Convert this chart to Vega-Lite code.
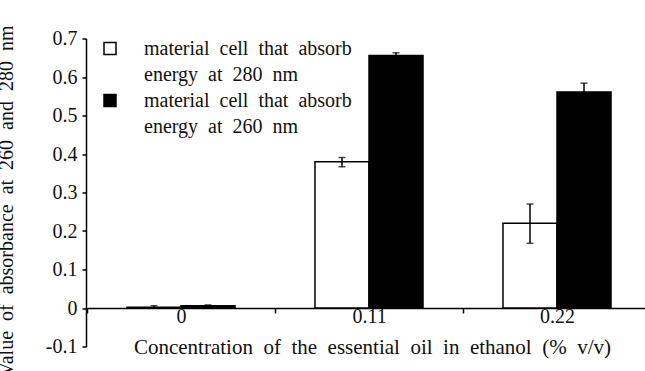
{
  "$schema": "https://vega.github.io/schema/vega-lite/v6.json",
  "width": 559,
  "height": 308,
  "autosize": {"type": "none"},
  "padding": {"left": 86, "top": 38.5, "right": 0, "bottom": 24.5},
  "background": "white",
  "config": {
    "view": {"stroke": null},
    "font": "Liberation Serif",
    "axis": {"grid": false, "labelFont": "Liberation Serif", "titleFont": "Liberation Serif"},
    "axisY": {"labelOverlap": false},
    "legend": {"labelFont": "Liberation Serif", "titleFont": "Liberation Serif"}
  },
  "data": {
    "values": [
      {"conc": "0", "series": "280", "value": 0.002, "lo": 0.0, "hi": 0.006},
      {"conc": "0", "series": "260", "value": 0.006, "lo": 0.004, "hi": 0.008},
      {"conc": "0.11", "series": "280", "value": 0.38, "lo": 0.367, "hi": 0.391},
      {"conc": "0.11", "series": "260", "value": 0.656, "lo": 0.649, "hi": 0.663},
      {"conc": "0.22", "series": "280", "value": 0.22, "lo": 0.168, "hi": 0.27},
      {"conc": "0.22", "series": "260", "value": 0.561, "lo": 0.538, "hi": 0.584}
    ]
  },
  "encoding": {
    "x": {
      "field": "conc",
      "type": "nominal",
      "sort": null,
      "scale": {"range": [1, 565], "paddingInner": 0, "paddingOuter": 0},
      "axis": {
        "title": "Concentration\u00a0 of\u00a0 the\u00a0 essential\u00a0 oil\u00a0 in\u00a0 ethanol\u00a0 (%\u00a0 v/v)",
        "labelAngle": 0,
        "offset": -38.5,
        "domainColor": "black",
        "domainWidth": 1.5,
        "tickColor": "black",
        "tickSize": 5,
        "tickWidth": 1.5,
        "tickBand": "extent",
        "labelFontSize": 20,
        "labelColor": "#111",
        "labelPadding": -7,
        "titleFontSize": 21,
        "titleFontWeight": "normal",
        "titleColor": "#111",
        "titleX": 286,
        "titleY": 45,
        "titleBaseline": "alphabetic"
      }
    },
    "xOffset": {
      "field": "series",
      "type": "nominal",
      "scale": {"domain": ["280", "260"], "paddingInner": 0, "paddingOuter": 0.74}
    }
  },
  "layer": [
    {
      "mark": {"type": "bar", "strokeWidth": 1.5},
      "encoding": {
        "y": {
          "field": "value",
          "type": "quantitative",
          "scale": {"domain": [-0.1, 0.7], "nice": false, "zero": false},
          "axis": {
            "title": "Value\u00a0 of\u00a0 absorbance\u00a0 at\u00a0 260\u00a0 and\u00a0 280\u00a0 nm",
            "tickCount": 8,
            "labelExpr": "toString(round(datum.value*10)/10)",
            "labelOverlap": false,
            "labelSeparation": 0,
            "domainColor": "black",
            "domainWidth": 1.5,
            "tickColor": "black",
            "tickSize": 4,
            "tickWidth": 1.5,
            "labelFontSize": 20,
            "labelColor": "#111",
            "labelPadding": 5,
            "titleFontSize": 20,
            "titleFontWeight": "normal",
            "titleColor": "#111",
            "titleX": -73.5,
            "titleY": 162,
            "titleBaseline": "alphabetic"
          }
        },
        "fill": {
          "field": "series",
          "type": "nominal",
          "scale": {"domain": ["280", "280b", "260", "260b"], "range": ["white", "transparent", "black", "transparent"]},
          "legend": {
            "orient": "none",
            "legendX": 14,
            "legendY": 0,
            "title": null,
            "padding": 0,
            "symbolType": "square",
            "symbolSize": 144,
            "symbolStrokeWidth": 1.5,
            "labelFontSize": 20,
            "labelColor": "#111",
            "labelOffset": 24,
            "rowPadding": 6,
            "labelLimit": 400,
            "labelExpr": "datum.value == '280' || datum.value == '260' ? 'material\u00a0 cell\u00a0 that\u00a0 absorb' : datum.value == '280b' ? 'energy\u00a0 at\u00a0 280\u00a0 nm' : 'energy\u00a0 at\u00a0 260\u00a0 nm'"
          }
        },
        "stroke": {
          "field": "series",
          "type": "nominal",
          "scale": {"domain": ["280", "280b", "260", "260b"], "range": ["black", "transparent", "black", "transparent"]},
          "legend": {
            "orient": "none",
            "legendX": 14,
            "legendY": 0,
            "title": null,
            "padding": 0,
            "symbolType": "square",
            "symbolSize": 144,
            "symbolStrokeWidth": 1.5,
            "labelFontSize": 20,
            "labelColor": "#111",
            "labelOffset": 24,
            "rowPadding": 6,
            "labelLimit": 400,
            "labelExpr": "datum.value == '280' || datum.value == '260' ? 'material\u00a0 cell\u00a0 that\u00a0 absorb' : datum.value == '280b' ? 'energy\u00a0 at\u00a0 280\u00a0 nm' : 'energy\u00a0 at\u00a0 260\u00a0 nm'"
          }
        }
      }
    },
    {
      "mark": {"type": "rule", "strokeWidth": 1.5, "color": "black"},
      "encoding": {
        "y": {"field": "lo", "type": "quantitative"},
        "y2": {"field": "hi"}
      }
    },
    {
      "mark": {"type": "tick", "orient": "horizontal", "size": 7, "thickness": 1.5, "color": "black"},
      "encoding": {
        "y": {"field": "lo", "type": "quantitative"}
      }
    },
    {
      "mark": {"type": "tick", "orient": "horizontal", "size": 7, "thickness": 1.5, "color": "black"},
      "encoding": {
        "y": {"field": "hi", "type": "quantitative"}
      }
    }
  ]
}
